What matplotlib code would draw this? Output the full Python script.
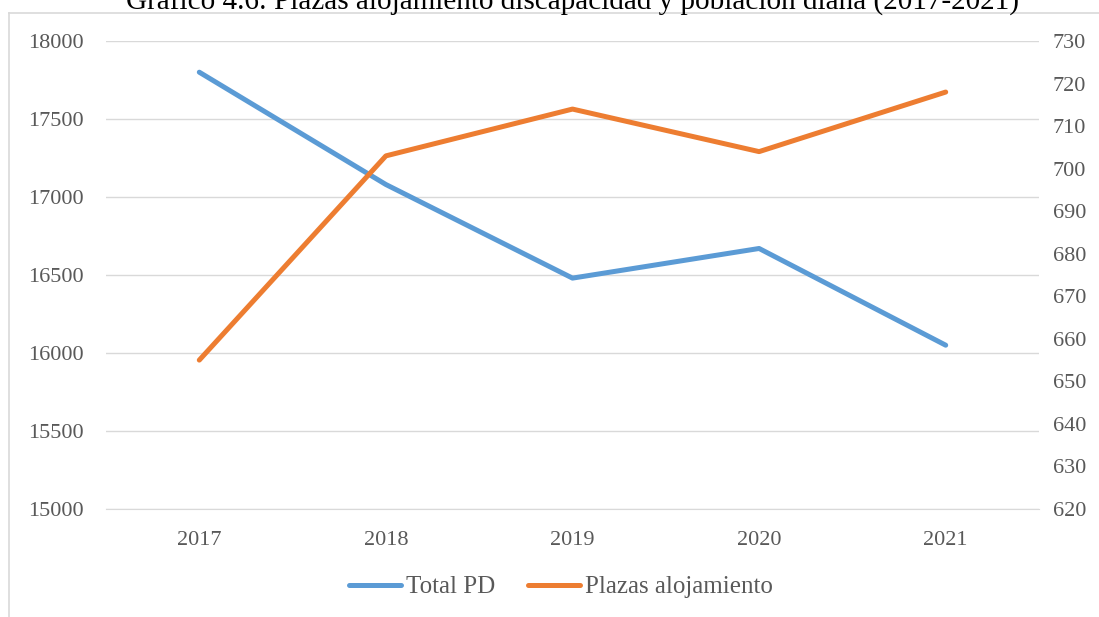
import matplotlib
matplotlib.use("Agg")
import matplotlib.pyplot as plt
from matplotlib.lines import Line2D

years = ["2017", "2018", "2019", "2020", "2021"]
total_pd = [17800, 17080, 16480, 16670, 16050]
plazas = [655, 703, 714, 704, 718]

plt.rcParams['font.family'] = ['Liberation Serif', 'DejaVu Serif']
W, H = 1099, 617
fig = plt.figure(figsize=(W / 100, H / 100), dpi=100)

left, right, top, bottom = 106, 1039, 41, 509
ax = fig.add_axes([left / W, 1 - bottom / H, (right - left) / W, (bottom - top) / H])
ax2 = ax.twinx()

x = list(range(len(years)))
blue = '#5B9BD5'
orange = '#ED7D31'
l1, = ax.plot(x, total_pd, color=blue, lw=3.6, solid_capstyle='round', label='Total PD', zorder=3)
l2, = ax2.plot(x, plazas, color=orange, lw=3.6, solid_capstyle='round', label='Plazas alojamiento', zorder=3)

ax.set_xlim(-0.5, len(years) - 0.5)
ax.set_ylim(15000, 18000)
ax.set_yticks(range(15000, 18001, 500))
ax2.set_ylim(620, 730)
ax2.set_yticks(range(620, 731, 10))
ax.set_xticks(x)
ax.set_xticklabels(years)

ax.grid(axis='y', color='#D9D9D9', lw=1)
ax.set_axisbelow(True)
for a in (ax, ax2):
    for s in a.spines.values():
        s.set_visible(False)
    a.tick_params(length=0, labelsize=16, colors='#595959')
ax.tick_params(axis='y', pad=16)
ax2.tick_params(axis='y', pad=10)
ax.tick_params(axis='x', pad=16)
ax.spines['bottom'].set_visible(True)
ax.spines['bottom'].set_color('#D9D9D9')

fig.legend(handles=[l1, l2], loc='center', bbox_to_anchor=(561 / W, 1 - 587 / H),
           ncol=2, frameon=False, fontsize=18, handlelength=2.1, handletextpad=0.2,
           columnspacing=1.3, labelcolor='#595959')

fig.text(572 / W, 1 - 9 / H, "Gráfico 4.6: Plazas alojamiento discapacidad y población diana (2017-2021)",
         ha='center', va='baseline', fontsize=21, color='black')

fig.add_artist(Line2D([8.5 / W, 8.5 / W], [0, 1 - 13 / H], color='#D9D9D9', lw=1.2, transform=fig.transFigure))
fig.add_artist(Line2D([8.5 / W, 1], [1 - 13 / H, 1 - 13 / H], color='#D9D9D9', lw=1.2, transform=fig.transFigure))

fig.savefig("out.png", dpi=100)
